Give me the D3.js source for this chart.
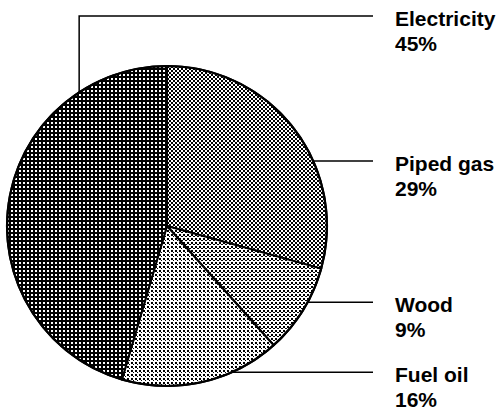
<!DOCTYPE html>
<html>
<head>
<meta charset="utf-8">
<script src="https://cdn.jsdelivr.net/npm/d3@7"></script>
<style>
  body { margin: 0; background: #fff; }
  svg { display: block; }
</style>
</head>
<body>
<div id="chart"></div>
<script>
// Data, in drawing order (clockwise from 12 o'clock)
var categories = ["Piped gas", "Wood", "Fuel oil", "Electricity"];
var shares = [29, 9, 16, 45];
var pctLabels = ["29%", "9%", "16%", "45%"];

// Layout
var width = 500, height = 412;
var cx = 167, cy = 226, radius = 160;
var leaderEndX = 373, labelX = 395;
var leaderAngle = {"Piped gas": 66, "Wood": 118.5, "Fuel oil": 156, "Electricity": 326.7};
var elbowY = 16; // electricity leader goes up then right
var lineGap = 25;

var svg = d3.select("#chart").append("svg")
    .attr("width", width)
    .attr("height", height);

// Halftone-like fill patterns
var defs = svg.append("defs");
function pattern(id, bg, dots, dotColor) {
  var p = defs.append("pattern")
      .attr("id", id)
      .attr("patternUnits", "userSpaceOnUse")
      .attr("width", 4).attr("height", 4);
  p.append("rect").attr("width", 4).attr("height", 4).attr("fill", bg);
  dots.forEach(function(d) {
    p.append("rect")
      .attr("x", d[0]).attr("y", d[1])
      .attr("width", d[2]).attr("height", d[3])
      .attr("fill", dotColor)
      .attr("shape-rendering", "crispEdges");
  });
}
pattern("p-elec", "#000", [[0, 0, 2, 2]], "#fff");
pattern("p-gas", "#fff", [[0, 0, 2, 2], [2, 2, 2, 2]], "#000");
pattern("p-wood", "#fff", [[0, 0, 2, 2], [2, 2, 2, 1]], "#000");
pattern("p-oil", "#fff", [[0, 0, 2, 2], [2, 2, 1, 1]], "#000");

var fills = d3.scaleOrdinal()
    .domain(categories)
    .range(["url(#p-gas)", "url(#p-wood)", "url(#p-oil)", "url(#p-elec)"]);

var data = categories.map(function(c, i) { return {name: c, value: shares[i], pct: pctLabels[i]}; });

var pie = d3.pie().sort(null).value(function(d) { return d.value; });
var arc = d3.arc().innerRadius(0).outerRadius(radius);

var g = svg.append("g").attr("transform", "translate(" + cx + "," + cy + ")");

g.selectAll("path.slice")
  .data(pie(data))
  .enter().append("path")
    .attr("class", "slice")
    .attr("d", arc)
    .attr("fill", function(d) { return fills(d.data.name); })
    .attr("stroke", "#000")
    .attr("stroke-width", 2)
    .attr("stroke-linejoin", "round");

// Outline
g.append("circle")
  .attr("r", radius)
  .attr("fill", "none")
  .attr("stroke", "#000")
  .attr("stroke-width", 2.2);

// Leader lines and labels
data.forEach(function(d) {
  var p = d3.pointRadial(leaderAngle[d.name] * Math.PI / 180, radius);
  var px = cx + p[0], py = cy + p[1];
  var pts, ly;
  if (d.name === "Electricity") {
    pts = [[px, py], [px, elbowY], [leaderEndX, elbowY]];
    ly = elbowY;
  } else {
    pts = [[px, py], [leaderEndX, py]];
    ly = py;
  }
  svg.append("path")
    .attr("d", d3.line()(pts))
    .attr("fill", "none")
    .attr("stroke", "#000")
    .attr("stroke-width", 1.5);

  var t = svg.append("text")
    .attr("x", labelX)
    .attr("y", ly + 10)
    .style("font-family", "'Liberation Sans', Arial, Helvetica, sans-serif")
    .style("font-size", "21px")
    .style("font-weight", "bold")
    .attr("fill", "#000");
  t.append("tspan").attr("x", labelX).text(d.name);
  t.append("tspan").attr("x", labelX).attr("dy", lineGap).text(d.pct);
});
</script>
</body>
</html>
